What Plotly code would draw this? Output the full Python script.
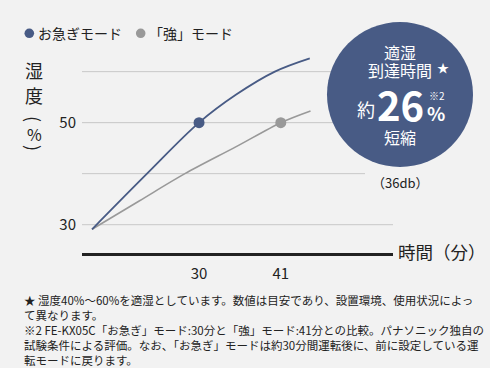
import plotly.graph_objects as go

# ---- data ----
quick_t = [15.6, 23.0, 30.0, 35.0, 40.2, 44.9]
quick_h = [29.1, 40.0, 50.0, 55.5, 60.0, 62.6]
strong_t = [15.6, 22.0, 28.1, 35.0, 41.0, 45.0]
strong_h = [29.1, 34.7, 40.0, 45.3, 50.0, 52.3]
quick_mark_t = [30]
quick_mark_h = [50]
strong_mark_t = [41]
strong_mark_h = [50]
x_ticks = [30, 41]
y_ticks = [30, 50]
grid_values = [30, 40, 50, 60]

W, H = 490, 368
FONT = "Noto Sans CJK JP"
BLUE = "#485b85"
GRAY = "#999999"
BG = "#f2f2f2"
TXT = "#222222"

def px(x):
    return x / W

def py(y):
    return 1 - y / H

fig = go.Figure()
fig.add_trace(go.Scatter(x=strong_t, y=strong_h, mode="lines",
                         line=dict(color=GRAY, width=1.6, shape="spline", smoothing=0.9),
                         hoverinfo="skip", showlegend=False))
fig.add_trace(go.Scatter(x=quick_t, y=quick_h, mode="lines",
                         line=dict(color=BLUE, width=1.8, shape="spline", smoothing=1.0),
                         hoverinfo="skip", showlegend=False))
fig.add_trace(go.Scatter(x=strong_mark_t, y=strong_mark_h, mode="markers",
                         marker=dict(color=GRAY, size=11), showlegend=False))
fig.add_trace(go.Scatter(x=quick_mark_t, y=quick_mark_h, mode="markers",
                         marker=dict(color=BLUE, size=11), showlegend=False))

shapes = []
for g in grid_values:
    shapes.append(dict(type="line", xref="x domain", yref="y", x0=0,
                       x1=1.0 if g == 30 else 0.91, y0=g, y1=g,
                       line=dict(color="#c8c8c8", width=1), layer="below"))
# badge circle
shapes.append(dict(type="circle", xref="paper", yref="paper",
                   x0=px(327), x1=px(473), y0=py(167), y1=py(22),
                   fillcolor=BLUE, line=dict(width=0), layer="above"))
# legend dots
for cx, col in [(29.3, BLUE), (140.7, GRAY)]:
    shapes.append(dict(type="circle", xref="paper", yref="paper",
                       x0=px(cx - 4.8), x1=px(cx + 4.8), y0=py(33.3 + 4.8), y1=py(33.3 - 4.8),
                       fillcolor=col, line=dict(width=0)))

ann = []
def a(text, x, y, size, color=TXT, xanchor="center", yanchor="middle", bold=False,
      align="center", angle=0):
    ann.append(dict(text=f"<b>{text}</b>" if bold else text, x=px(x), y=py(y),
                    xref="paper", yref="paper", showarrow=False, textangle=angle,
                    xanchor=xanchor, yanchor=yanchor, align=align,
                    font=dict(family=FONT, size=size, color=color)))

# legend labels
a("お急ぎモード", 36, 33, 14, xanchor="left")
a("「強」モード", 147, 33, 14, xanchor="left")
# y title (vertical)
a("湿", 34, 70, 18)
a("度", 34, 95, 18)
a("(", 34, 119, 18, angle=90)
a("%", 34, 134, 16)
a(")", 34, 148, 18, angle=90)
# x title
a("時間（分）", 488, 251, 17.5, xanchor="right")
# badge text
a("適湿", 400, 52, 16, color="white")
a("到達時間", 400, 70, 16, color="white")
a("★", 443, 68, 12, color="white")
a("約", 366, 109, 18, color="white")
a("26", 400, 104, 40, color="white", bold=True)
a("※2", 437, 95, 10, color="white")
a("%", 436, 112, 19, color="white", bold=True)
a("短縮", 400, 137, 16, color="white")
a("（36db）", 400, 183, 13)
# footnote
foot = ("★ 湿度40%～60%を適湿としています。数値は目安であり、設置環境、使用状況によっ<br>"
        "て異なります。<br>"
        "※2 FE-KX05C「お急ぎ」モード:30分と「強」モード:41分との比較。パナソニック独自の<br>"
        "試験条件による評価。なお、「お急ぎ」モードは約30分間運転後に、前に設定している運<br>"
        "転モードに戻ります。")
a(foot, 22, 290, 11.5, xanchor="left", yanchor="top", align="left")

fig.update_layout(
    width=W, height=H,
    margin=dict(l=0, r=0, t=0, b=0),
    paper_bgcolor=BG, plot_bgcolor=BG,
    font=dict(family=FONT, color=TXT),
    showlegend=False,
    shapes=shapes,
    annotations=ann,
    xaxis=dict(domain=[px(82), px(393)], range=[14.25, 56.1],
               showgrid=False, zeroline=False,
               showline=True, linecolor="#222222", linewidth=2.5,
               tickvals=x_ticks, ticktext=[str(v) for v in x_ticks],
               ticks="outside", ticklen=5, tickcolor="rgba(0,0,0,0)",
               tickfont=dict(family=FONT, size=15, color=TXT)),
    yaxis=dict(domain=[py(253), py(40)], range=[24.45, 66.2],
               showgrid=False, zeroline=False, showline=False,
               tickvals=y_ticks, ticktext=[str(v) for v in y_ticks],
               ticks="outside", ticklen=2, tickcolor="rgba(0,0,0,0)",
               tickfont=dict(family=FONT, size=15, color=TXT)),
)

fig.write_html("out.html", config={"displayModeBar": False},
               post_script="document.body.style.margin='0';document.body.style.background='%s';" % BG)
